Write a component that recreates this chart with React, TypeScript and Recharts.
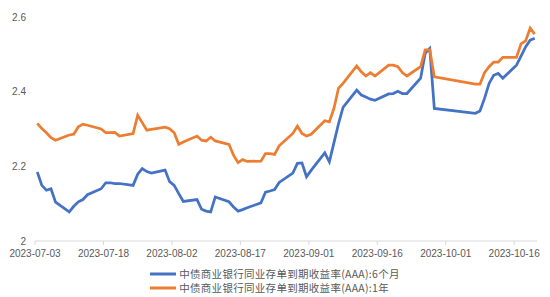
import React from 'react';
import { LineChart, Line, XAxis, YAxis, Legend } from 'recharts';

// business days shown on the chart
const dates = [
  '2023-07-03', '2023-07-04', '2023-07-05', '2023-07-06', '2023-07-07',
  '2023-07-10', '2023-07-11', '2023-07-12', '2023-07-13', '2023-07-14',
  '2023-07-17', '2023-07-18', '2023-07-19', '2023-07-20', '2023-07-21',
  '2023-07-24', '2023-07-25', '2023-07-26', '2023-07-27', '2023-07-28',
  '2023-07-31', '2023-08-01', '2023-08-02', '2023-08-03', '2023-08-04',
  '2023-08-07', '2023-08-08', '2023-08-09', '2023-08-10', '2023-08-11',
  '2023-08-14', '2023-08-15', '2023-08-16', '2023-08-17', '2023-08-18',
  '2023-08-21', '2023-08-22', '2023-08-23', '2023-08-24', '2023-08-25',
  '2023-08-28', '2023-08-29', '2023-08-30', '2023-08-31', '2023-09-01',
  '2023-09-04', '2023-09-05', '2023-09-06', '2023-09-07', '2023-09-08',
  '2023-09-11', '2023-09-12', '2023-09-13', '2023-09-14', '2023-09-15',
  '2023-09-18', '2023-09-19', '2023-09-20', '2023-09-21', '2023-09-22',
  '2023-09-25', '2023-09-26', '2023-09-27', '2023-09-28',
  '2023-10-07', '2023-10-08',
  '2023-10-09', '2023-10-10', '2023-10-11', '2023-10-12', '2023-10-13',
  '2023-10-16', '2023-10-17', '2023-10-18', '2023-10-19', '2023-10-20',
];

const sixMonth = [
  2.185, 2.149, 2.136, 2.140, 2.104,
  2.078, 2.093, 2.105, 2.111, 2.124,
  2.140, 2.156, 2.156, 2.154, 2.154,
  2.149, 2.179, 2.194, 2.186, 2.182,
  2.190, 2.159, 2.149, 2.127, 2.106,
  2.111, 2.085, 2.080, 2.078, 2.118,
  2.105, 2.091, 2.080, 2.084, 2.089,
  2.102, 2.131, 2.134, 2.138, 2.157,
  2.182, 2.208, 2.209, 2.172, 2.189,
  2.236, 2.212, 2.263, 2.314, 2.358,
  2.404, 2.391, 2.386, 2.380, 2.377,
  2.394, 2.395, 2.401, 2.395, 2.395,
  2.436, 2.503, 2.516, 2.355,
  2.342, 2.348,
  2.382, 2.422, 2.444, 2.449, 2.436,
  2.471, 2.495, 2.520, 2.538, 2.543,
];

const oneYear = [
  2.315, 2.301, 2.290, 2.277, 2.270,
  2.284, 2.286, 2.306, 2.313, 2.310,
  2.300, 2.290, 2.290, 2.291, 2.281,
  2.288, 2.337, 2.317, 2.297, 2.299,
  2.305, 2.301, 2.290, 2.259, 2.265,
  2.281, 2.270, 2.268, 2.278, 2.268,
  2.259, 2.230, 2.210, 2.218, 2.213,
  2.214, 2.234, 2.234, 2.232, 2.255,
  2.288, 2.308, 2.288, 2.281, 2.286,
  2.322, 2.319, 2.355, 2.409, 2.422,
  2.469, 2.453, 2.442, 2.451, 2.442,
  2.471, 2.471, 2.467, 2.451, 2.442,
  2.467, 2.512, 2.512, 2.440,
  2.420, 2.420,
  2.451, 2.467, 2.479, 2.479, 2.492,
  2.492, 2.528, 2.536, 2.570, 2.554,
];

const seriesNames = ['中债商业银行同业存单到期收益率(AAA):6个月', '中债商业银行同业存单到期收益率(AAA):1年'];
const colors = ['#4472C4', '#ED7D31'];
const yTicks = [2, 2.2, 2.4, 2.6];
const xTickDays = [0, 15, 30, 45, 60, 75, 90, 105];

const DAY = 86400000;
const start = Date.UTC(2023, 6, 3);

const dayOf = (s: string) => {
  const [y, m, d] = s.split('-').map(Number);
  return Math.round((Date.UTC(y, m - 1, d) - start) / DAY);
};

const fmtDay = (v: number) => new Date(start + v * DAY).toISOString().slice(0, 10);

// points sit in the middle of their day slot, like an Excel date axis
const data = dates.map((d, i) => ({
  x: dayOf(d) + 0.5,
  sixMonth: sixMonth[i],
  oneYear: oneYear[i],
}));

const LegendBox = () => (
  <div style={{ width: 550, height: 34, paddingTop: 4, boxSizing: 'border-box', textAlign: 'center' }}>
    <div style={{ display: 'inline-block', textAlign: 'left' }}>
      {seriesNames.map((name, i) => (
        <div
          key={name}
          style={{
            display: 'flex',
            alignItems: 'center',
            height: 14,
            fontFamily: '"Noto Sans CJK SC", sans-serif',
            fontSize: 10.5,
            lineHeight: '14px',
            color: '#595959',
            whiteSpace: 'nowrap',
          }}
        >
          <svg width={26} height={12} style={{ marginRight: 3 }}>
            <line x1={0} y1={6} x2={26} y2={6} stroke={colors[i]} strokeWidth={3} />
          </svg>
          <span style={{ letterSpacing: 0.3 }}>{name}</span>
        </div>
      ))}
    </div>
  </div>
);

const App = () => {
  const tickStyle = { fontSize: 10, fill: '#595959', fontFamily: '"Liberation Sans", Arial, sans-serif' };
  return (
    <div style={{ position: 'relative', width: 550, height: 297, margin: '-8px 0 0 -8px', background: '#fff' }}>
      <LineChart width={550} height={297} data={data} margin={{ top: 17, right: 13, bottom: 0, left: 0 }}>
        <XAxis
          dataKey="x"
          type="number"
          domain={[0, 110]}
          ticks={xTickDays}
          tickFormatter={fmtDay}
          axisLine={{ stroke: '#d9d9d9' }}
          tickLine={{ stroke: '#d9d9d9' }}
          tickSize={4}
          tickMargin={5}
          height={22}
          tick={tickStyle}
          interval={0}
        />
        <YAxis
          domain={[2, 2.6]}
          ticks={yTicks}
          width={35}
          axisLine={false}
          tickLine={false}
          tickSize={0}
          tickMargin={9}
          tick={tickStyle}
          tickFormatter={(v: number) => String(Math.round(v * 10) / 10)}
        />
        <Legend
          verticalAlign="bottom"
          content={() => <LegendBox />}
          wrapperStyle={{ left: 0, width: 550, height: 34 }}
        />
        <Line
          type="linear"
          dataKey="sixMonth"
          name={seriesNames[0]}
          stroke={colors[0]}
          strokeWidth={2.75}
          dot={false}
          isAnimationActive={false}
        />
        <Line
          type="linear"
          dataKey="oneYear"
          name={seriesNames[1]}
          stroke={colors[1]}
          strokeWidth={2.75}
          dot={false}
          isAnimationActive={false}
        />
      </LineChart>
    </div>
  );
};

export default App;
